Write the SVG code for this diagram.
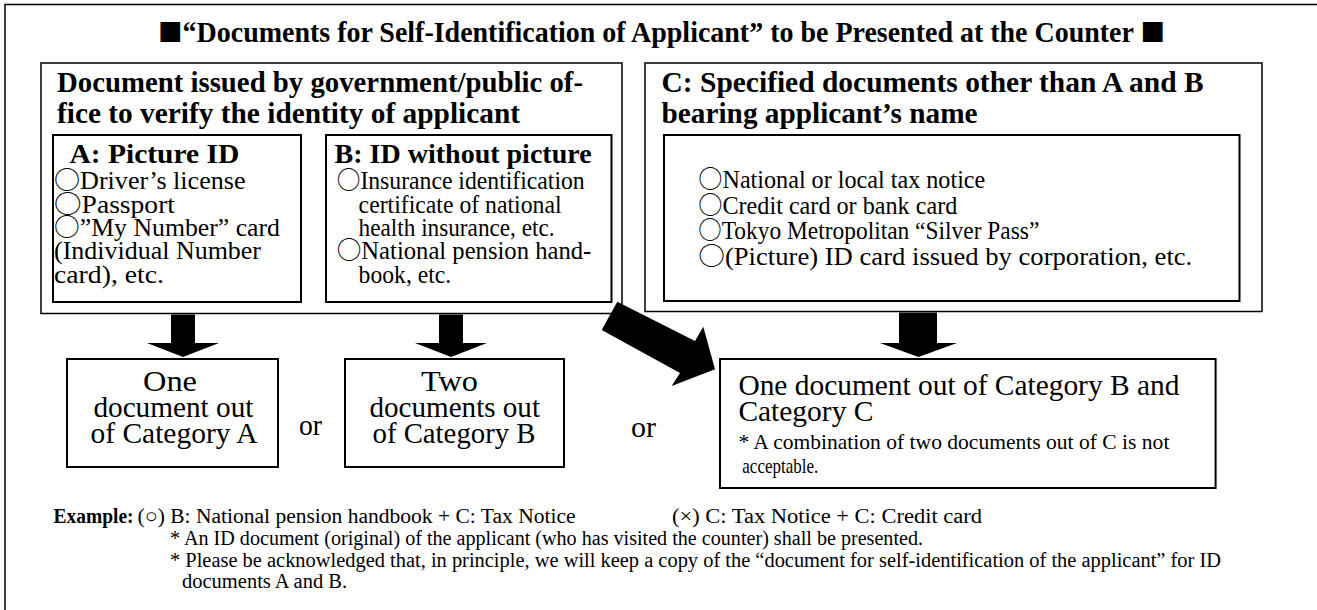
<svg xmlns="http://www.w3.org/2000/svg" width="1317" height="610" viewBox="0 0 1317 610">
<style>
.bx{fill:#fff;stroke:#000;stroke-width:1.5}
.bx2{fill:#fff;stroke:#000;stroke-width:2}
.t{font-family:"Liberation Serif","DejaVu Serif","Noto Sans CJK JP",serif;fill:#000}
.b{font-weight:bold}
.h{font-size:29px}
.s{font-size:28px}
.l{font-size:24.5px}
.r{font-size:28.5px}
.rc{font-size:28.5px}
.m{font-size:21px}
.n{font-size:20.5px}
.c{font-family:"Noto Sans CJK JP","DejaVu Sans",sans-serif;font-weight:normal}
.ar{fill:#000;stroke:none}
</style>
<rect width="1317" height="610" fill="#fff"/>
<path d="M5,615 V4.5 H1320" fill="none" stroke="#000" stroke-width="1.5"/>

<g id="title">
<text class="t b" x="158" y="41.5" font-size="28.5" textLength="1007" lengthAdjust="spacingAndGlyphs"><tspan class="c" font-size="25">■</tspan>“Documents for Self-Identification of Applicant” to be Presented at the Counter <tspan class="c" font-size="25">■</tspan></text>
</g>

<g id="gov-box">
<rect class="bx" x="41" y="63" width="581" height="250.5"/>
<text class="t b h" x="57" y="92" textLength="526" lengthAdjust="spacingAndGlyphs">Document issued by government/public of-</text>
<text class="t b h" x="57" y="123" textLength="463" lengthAdjust="spacingAndGlyphs">fice to verify the identity of applicant</text>
</g>

<g id="box-a">
<rect class="bx2" x="53" y="135" width="248" height="167"/>
<text class="t b s" x="69.4" y="163" textLength="170" lengthAdjust="spacingAndGlyphs">A: Picture ID</text>
<text class="t l" x="54" y="189" textLength="191.5" lengthAdjust="spacingAndGlyphs"><tspan class="c">○</tspan>Driver’s license</text>
<text class="t l" x="54" y="212.5" textLength="121" lengthAdjust="spacingAndGlyphs"><tspan class="c">○</tspan>Passport</text>
<text class="t l" x="54" y="236" textLength="226" lengthAdjust="spacingAndGlyphs"><tspan class="c">○</tspan>”My Number” card</text>
<text class="t l" x="54" y="259" textLength="207" lengthAdjust="spacingAndGlyphs">(Individual Number</text>
<text class="t l" x="54" y="282.5" textLength="110" lengthAdjust="spacingAndGlyphs">card), etc.</text>
</g>

<g id="box-b">
<rect class="bx2" x="326" y="135" width="285.5" height="167"/>
<text class="t b s" x="334.6" y="163" textLength="257" lengthAdjust="spacingAndGlyphs">B: ID without picture</text>
<text class="t l" x="336.7" y="189" textLength="248" lengthAdjust="spacingAndGlyphs"><tspan class="c">○</tspan>Insurance identification</text>
<text class="t l" x="358.6" y="212.5" textLength="203" lengthAdjust="spacingAndGlyphs">certificate of national</text>
<text class="t l" x="358.6" y="236" textLength="196" lengthAdjust="spacingAndGlyphs">health insurance, etc.</text>
<text class="t l" x="336.7" y="259" textLength="254.6" lengthAdjust="spacingAndGlyphs"><tspan class="c">○</tspan>National pension hand-</text>
<text class="t l" x="358.6" y="282.5" textLength="92.6" lengthAdjust="spacingAndGlyphs">book, etc.</text>
</g>

<g id="box-c">
<rect class="bx" x="645" y="63" width="617" height="248.5"/>
<text class="t b h" x="661.6" y="92" textLength="542" lengthAdjust="spacingAndGlyphs">C: Specified documents other than A and B</text>
<text class="t b h" x="661.6" y="123" textLength="316" lengthAdjust="spacingAndGlyphs">bearing applicant’s name</text>
</g>

<g id="box-c-list">
<rect class="bx2" x="664" y="135" width="575.5" height="166"/>
<text class="t l" x="698.3" y="188" textLength="287" lengthAdjust="spacingAndGlyphs"><tspan class="c">○</tspan>National or local tax notice</text>
<text class="t l" x="698.3" y="213.5" textLength="259" lengthAdjust="spacingAndGlyphs"><tspan class="c">○</tspan>Credit card or bank card</text>
<text class="t l" x="698.3" y="239" textLength="341" lengthAdjust="spacingAndGlyphs"><tspan class="c">○</tspan>Tokyo Metropolitan “Silver Pass”</text>
<text class="t l" x="698.3" y="264.5" textLength="494" lengthAdjust="spacingAndGlyphs"><tspan class="c">○</tspan>(Picture) ID card issued by corporation, etc.</text>
</g>

<g id="connectors">
<polygon class="ar" points="171,314.5 195,314.5 195,343 219,343 183,357 147,343 171,343"/>
<polygon class="ar" points="439,314.5 463,314.5 463,343 487,343 451,357 415,343 439,343"/>
<polygon class="ar" points="899,312.5 937,312.5 937,343 957,343 918.5,357 880,343 899,343"/>
<polygon class="ar" points="617.3,301.7 695,341 703.3,326.7 715,369.3 671.7,386 680,373 601.7,330"/>
</g>

<g id="result-a">
<rect class="bx2" x="67" y="359" width="211" height="108"/>
<text class="t r" x="143" y="391" textLength="54" lengthAdjust="spacingAndGlyphs">One</text>
<text class="t r" x="93.4" y="417" textLength="160" lengthAdjust="spacingAndGlyphs">document out</text>
<text class="t r" x="90.5" y="443" textLength="167" lengthAdjust="spacingAndGlyphs">of Category A</text>
</g>

<g id="or-1"><text class="t r" x="299" y="435" textLength="23" lengthAdjust="spacingAndGlyphs">or</text></g>

<g id="result-b">
<rect class="bx2" x="345" y="359" width="219" height="108"/>
<text class="t r" x="421" y="391" textLength="57" lengthAdjust="spacingAndGlyphs">Two</text>
<text class="t r" x="369.5" y="417" textLength="170.5" lengthAdjust="spacingAndGlyphs">documents out</text>
<text class="t r" x="372.5" y="443" textLength="163" lengthAdjust="spacingAndGlyphs">of Category B</text>
</g>

<g id="or-2"><text class="t r" x="631" y="437" textLength="25" lengthAdjust="spacingAndGlyphs">or</text></g>

<g id="result-c">
<rect class="bx2" x="720" y="359" width="495.6" height="129"/>
<text class="t rc" x="738.4" y="395" textLength="441" lengthAdjust="spacingAndGlyphs">One document out of Category B and</text>
<text class="t rc" x="738.4" y="420.5" textLength="135" lengthAdjust="spacingAndGlyphs">Category C</text>
<text class="t m" x="738.4" y="449" textLength="431" lengthAdjust="spacingAndGlyphs">* A combination of two documents out of C is not</text>
<text class="t m" x="742.3" y="473" textLength="76" lengthAdjust="spacingAndGlyphs">acceptable.</text>
</g>

<g id="notes">
<text class="t n b" x="53.6" y="523" textLength="80" lengthAdjust="spacingAndGlyphs">Example:</text>
<text class="t n" x="137.5" y="523" textLength="438" lengthAdjust="spacingAndGlyphs">(○) B: National pension handbook + C: Tax Notice</text>
<text class="t n" x="672" y="523" textLength="310" lengthAdjust="spacingAndGlyphs">(×) C: Tax Notice + C: Credit card</text>
<text class="t n" x="170" y="545" textLength="753" lengthAdjust="spacingAndGlyphs">* An ID document (original) of the applicant (who has visited the counter) shall be presented.</text>
<text class="t n" x="170" y="567" textLength="1051" lengthAdjust="spacingAndGlyphs">* Please be acknowledged that, in principle, we will keep a copy of the “document for self-identification of the applicant” for ID</text>
<text class="t n" x="182" y="588">documents A and B.</text>
</g>
</svg>
